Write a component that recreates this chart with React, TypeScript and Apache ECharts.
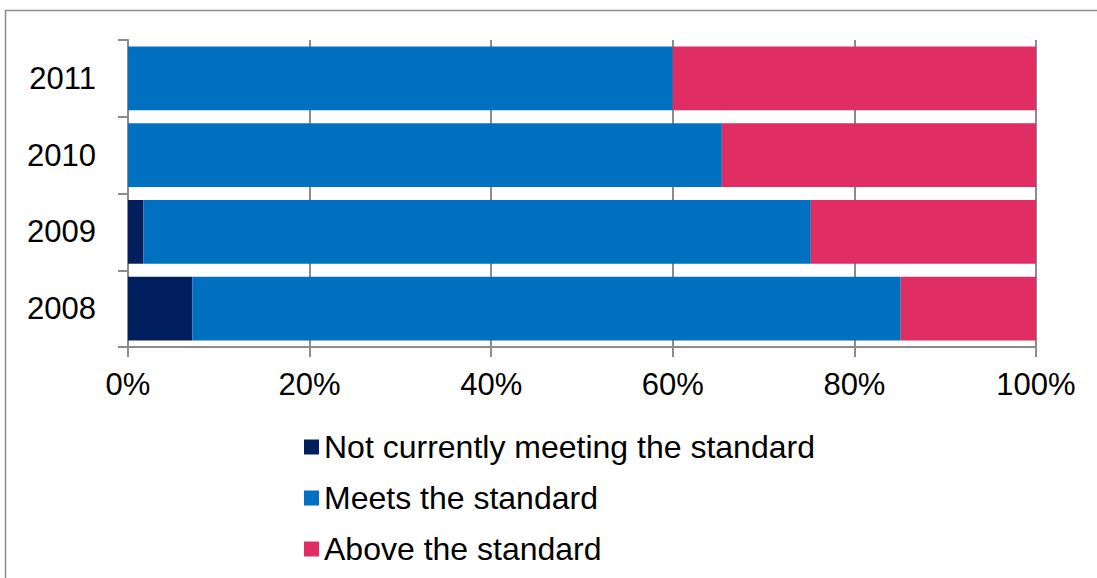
import React, { useEffect, useRef } from "react";
import * as echarts from "echarts";

const categories = ["2008", "2009", "2010", "2011"];
const notMeeting = [7.1, 1.7, 0, 0];
const meets = [78.0, 73.5, 65.4, 60.0];
const above = [14.9, 24.8, 34.6, 40.0];
const seriesNames = ["Not currently meeting the standard", "Meets the standard", "Above the standard"];
const colors = ["#001F5C", "#0070C0", "#E02D64"];

const FONT = "'Liberation Sans', Arial, sans-serif";
const AXIS = "#8C8C8C";

export default function App() {
  const ref = useRef<HTMLDivElement>(null);
  useEffect(() => {
    if (!ref.current) return;
    const chart = echarts.init(ref.current, undefined, { renderer: "svg" });
    const values = [notMeeting, meets, above];
    chart.setOption({
      animation: false,
      backgroundColor: "#ffffff",
      textStyle: { fontFamily: FONT },
      grid: { left: 128, right: 61, top: 40, bottom: 231, containLabel: false },
      legend: {
        orient: "vertical",
        left: 299,
        top: 426,
        itemWidth: 15,
        itemHeight: 15,
        itemGap: 19,
        icon: "rect",
        textStyle: { fontSize: 32, color: "#000", fontFamily: FONT, padding: [0, 0, 0, 0] },
        data: seriesNames,
      },
      xAxis: {
        type: "value",
        min: 0,
        max: 100,
        interval: 20,
        axisLine: { show: true, lineStyle: { color: AXIS, width: 2 } },
        axisTick: { show: true, length: 10, lineStyle: { color: AXIS, width: 2 } },
        splitLine: { show: true, lineStyle: { color: AXIS, width: 2 } },
        axisLabel: {
          formatter: "{value}%",
          fontSize: 31,
          color: "#000",
          margin: 22,
          fontFamily: FONT,
        },
      },
      yAxis: {
        type: "category",
        data: categories,
        axisLine: { show: true, lineStyle: { color: AXIS, width: 2 } },
        axisTick: { show: true, length: 10, lineStyle: { color: AXIS, width: 2 } },
        axisLabel: { fontSize: 31, color: "#000", margin: 32, fontFamily: FONT },
      },
      graphic: [
        {
          type: "rect",
          shape: { x: 5.5, y: 10.5, width: 1200, height: 700 },
          style: { fill: "none", stroke: AXIS, lineWidth: 1.5 },
          silent: true,
        },
      ],
      series: seriesNames.map((name, i) => ({
        name,
        type: "bar",
        stack: "total",
        barCategoryGap: "17%",
        itemStyle: { color: colors[i] },
        data: values[i],
      })),
    });
    return () => chart.dispose();
  }, []);
  return (
    <div
      ref={ref}
      style={{ position: "fixed", left: 0, top: 0, width: 1097, height: 578 }}
    />
  );
}
